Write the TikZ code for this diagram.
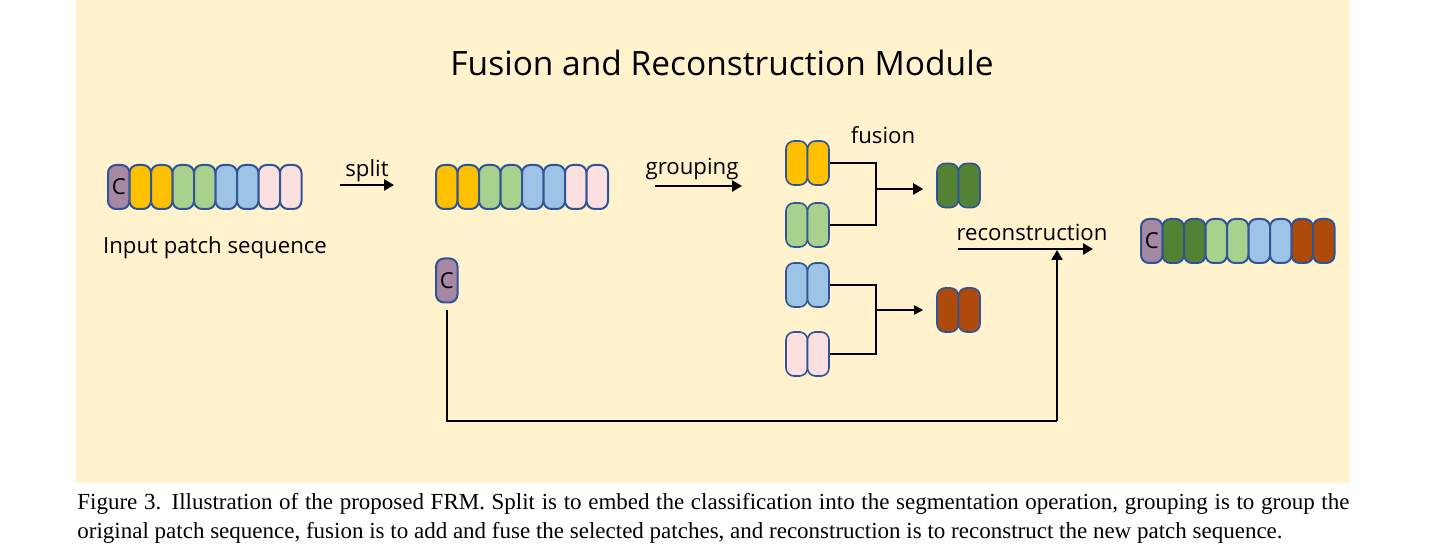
\documentclass[tikz,border=0pt]{standalone}
\usepackage{fontspec}
\setmainfont{Open Sans}
\newfontfamily\capfont{Liberation Serif}
\usetikzlibrary{arrows.meta}

\definecolor{bgyellow}{HTML}{FFF2CC}
\definecolor{patchline}{HTML}{2F5597}
\definecolor{pC}{HTML}{A687A4}
\definecolor{pY}{HTML}{FFC000}
\definecolor{pG}{HTML}{A9D18E}
\definecolor{pB}{HTML}{9DC3E6}
\definecolor{pP}{HTML}{FCE0E0}
\definecolor{pDG}{HTML}{548235}
\definecolor{pBr}{HTML}{AE4A0A}

\tikzset{
  patch/.style={draw=patchline, line width=1pt, rounded corners=4pt,
    minimum width=10.75pt, minimum height=22pt, inner sep=0pt,
    font=\fontsize{11}{13}\selectfont},
  flow/.style={line width=1.25pt, -{Triangle[length=5pt,width=5.5pt]}},
  lbl/.style={font=\fontsize{11.1}{13}\selectfont, inner sep=0pt},
}

\begin{document}
\begin{tikzpicture}
[x=0.5pt,y=-0.5pt]
\useasboundingbox (0,0) rectangle (1437,549);
\fill[bgyellow] (76,0) rectangle (1350,483);

\node[lbl,font=\fontsize{16.75}{20}\selectfont] (title) at (722,63) {Fusion and Reconstruction Module};

% input sequence
\node[patch,fill=pC] (in0) at (118.75,187) {C};
\foreach \c [count=\i] in {pY,pY,pG,pG,pB,pB,pP,pP}
  \node[patch,fill=\c] (in\i) at (118.75+21.5*\i,187) {};
\node[lbl] (inlbl) at (215,248) {Input patch sequence};

% split
\coordinate (s0) at (340,185);
\coordinate (s1) at (394,185);
\draw[flow] (s0) -- (s1);
\node[lbl] (split) at (367,171) {split};

\foreach \c [count=\i] in {pY,pY,pG,pG,pB,pB,pP,pP}
  \node[patch,fill=\c] (sp\i) at (425.25+21.5*\i,187) {};
\node[patch,fill=pC] (cs) at (446.75,280.5) {C};

% grouping
\coordinate (g0) at (655,186);
\coordinate (g1) at (742,186);
\draw[flow] (g0) -- (g1);
\node[lbl] (grouping) at (692,169) {grouping};

\foreach \c/\y/\n in {pY/163/gY,pG/225/gG,pB/285/gB,pP/354/gP}
{
  \node[patch,fill=\c,line width=0.8pt] (\n1) at (796.75,\y) {};
  \node[patch,fill=\c,line width=0.8pt] (\n2) at (818.25,\y) {};
}

% fusion
\node[lbl] (fusion) at (883,135) {fusion};
\node[patch,fill=pDG,line width=0.8pt] (dg1) at (947.75,185.5) {};
\node[patch,fill=pDG,line width=0.8pt] (dg2) at (969.25,185.5) {};
\node[patch,fill=pBr,line width=0.8pt] (br1) at (947.75,310) {};
\node[patch,fill=pBr,line width=0.8pt] (br2) at (969.25,310) {};

\coordinate (fj1) at (876,189);
\coordinate (fj2) at (876,310);
\draw[line width=1.2pt] (gY2.east) -| (fj1) |- (gG2.east);
\draw[line width=1.2pt] (gB2.east) -| (fj2) |- (gP2.east);
\draw[line width=1.1pt,-{Triangle[length=5pt,width=5.5pt]},shorten >=6.5pt] (fj1) -- (fj1 -| dg1.west);
\draw[line width=0.8pt,-{Triangle[length=4.5pt,width=4.5pt]},shorten >=6.5pt] (fj2) -- (fj2 -| br1.west);

% reconstruction
\coordinate (r0) at (958,249);
\coordinate (r1) at (1093,249);
\draw[flow] (r0) -- (r1);
\node[lbl] (recon) at (1032,232) {reconstruction};
\coordinate (cturn) at (1057,421);
\coordinate (rmid) at (1057,250);
\draw[line width=1.25pt,shorten <=3.5pt] (cs.south) |- (cturn);
\draw[flow] (cturn) -- (rmid);

\node[patch,fill=pC] (out0) at (1151.75,241) {C};
\foreach \c [count=\i] in {pDG,pDG,pG,pG,pB,pB,pBr,pBr}
  \node[patch,fill=\c] (out\i) at (1151.75+21.5*\i,241) {};

% caption
\node[anchor=north west,text width=636pt,align=justify,inner sep=0pt,
  font=\capfont\fontsize{11.5}{14.5}\selectfont] (caption) at (77,493)
  {Figure 3. Illustration of the proposed FRM. Split is to embed the classification into the segmentation operation, grouping is to group the\linebreak original patch sequence, fusion is to add and fuse the selected patches, and reconstruction is to reconstruct the new patch sequence.};
\end{tikzpicture}
\end{document}
